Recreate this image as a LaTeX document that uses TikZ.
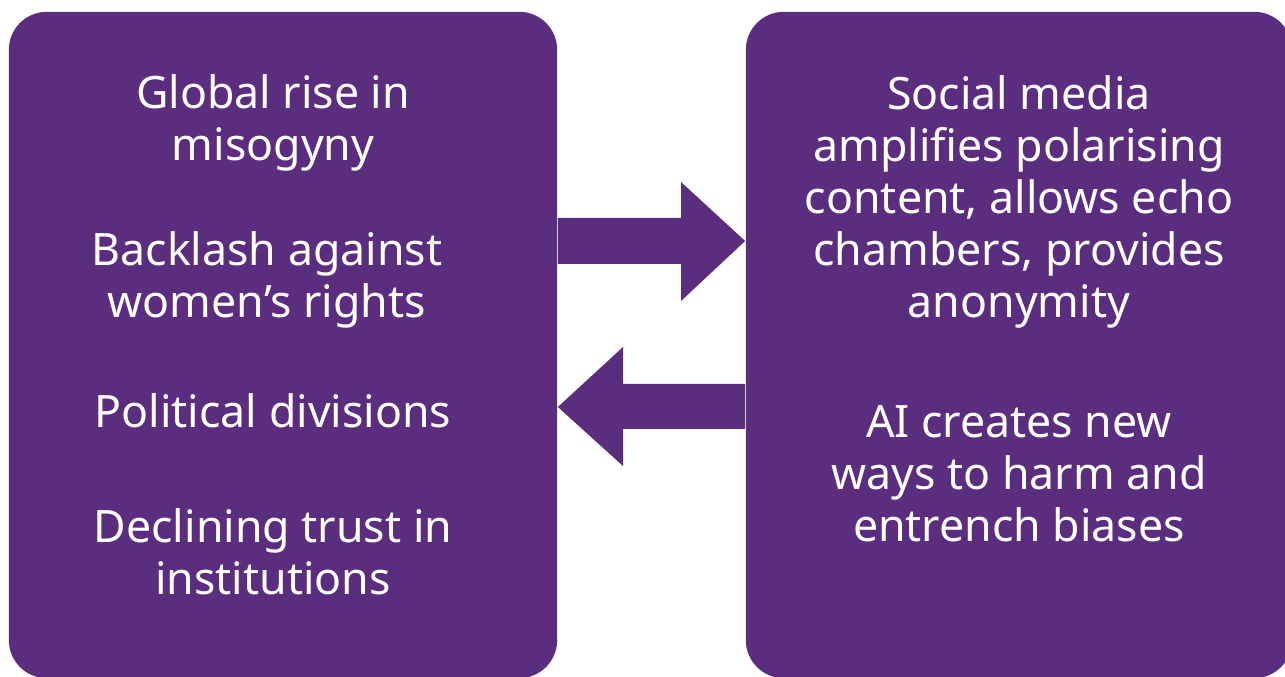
\documentclass[tikz,border=0pt]{standalone}
\usepackage{fontspec}
\setmainfont{Noto Sans}
\usepackage{tikz}
\usetikzlibrary{calc}
\definecolor{plum}{RGB}{91,45,126}
\tikzset{
	panel/.style={fill=plum, rounded corners=0.38cm, inner sep=0pt},
	point/.style={text=white, align=center, anchor=base, font=\fontsize{12.7}{14.8}\selectfont}
}

\begin{document}
\begin{tikzpicture}[x=0.01cm, y=-0.01cm]
		%%%%% START %%%%%
		
		\useasboundingbox (0, 0) rectangle (1285, 677);
		
		\node[panel, minimum width=5.48cm, minimum height=6.66cm] (causes) at (283, 345) {};
		\node[panel, minimum width=5.46cm, minimum height=6.66cm] (effects) at (1019, 345) {};
		
		% base sits on the last line of each block
		\node[point] (rise) at (273, 161) {Global rise in\\misogyny};
		\node[point] (backlash) at (267, 318) {Backlash against\\women’s rights};
		\node[point] (divisions) at (273, 428) {Political divisions};
		\node[point] (trust) at (273, 595) {Declining trust in\\institutions};
		
		\node[point] (media) at (1019, 318) {Social media\\amplifies polarising\\content, allows echo\\chambers, provides\\anonymity};
		\node[point] (ai) at (1019, 542) {AI creates new\\ways to harm and\\entrench biases};
		
		\fill[plum] (causes.east |- 0, 218) -- (681, 218) -- (681, 182) -- (effects.west |- 0, 241)
			-- (681, 301) -- (681, 264) -- (causes.east |- 0, 264) -- cycle;
		\fill[plum] (effects.west |- 0, 384) -- (623, 384) -- (623, 347) -- (causes.east |- 0, 407)
			-- (623, 466) -- (623, 429) -- (effects.west |- 0, 429) -- cycle;
		
		%%%%% END %%%%%
	\end{tikzpicture}
\end{document}
